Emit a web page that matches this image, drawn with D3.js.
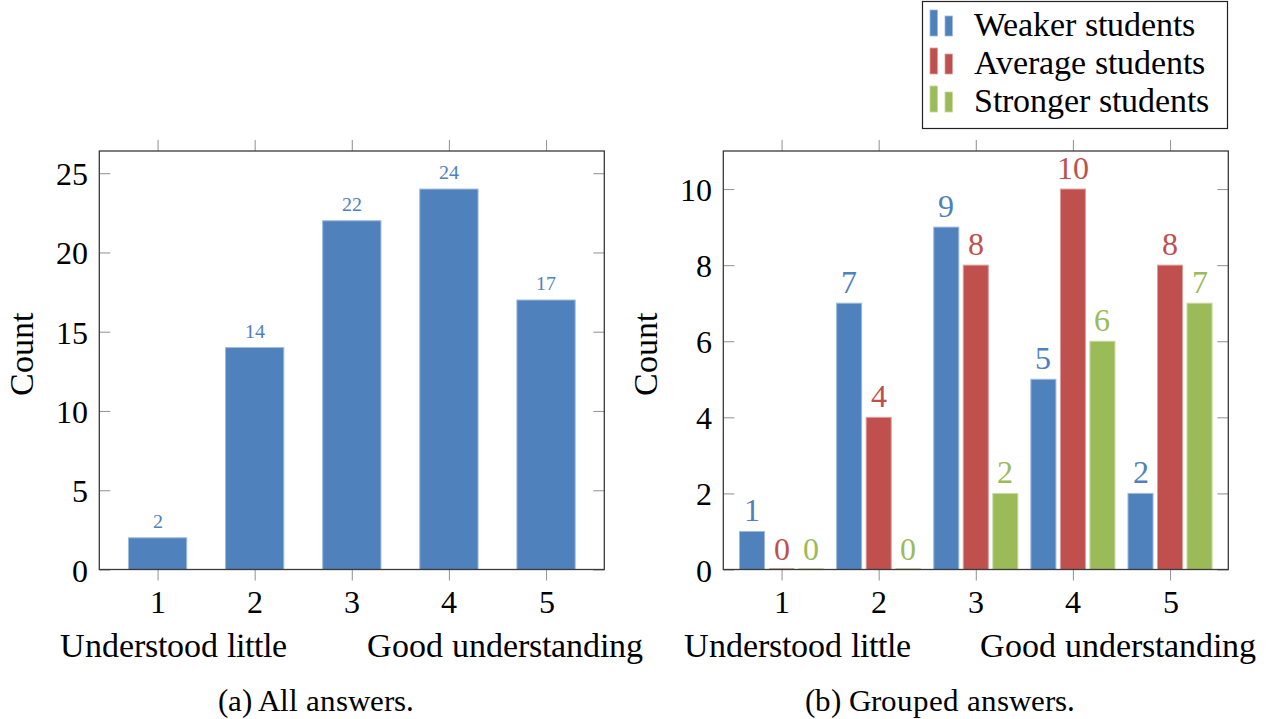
<!DOCTYPE html>
<html>
<head>
<meta charset="utf-8">
<script src="https://cdn.jsdelivr.net/npm/d3@7"></script>
<style>
  @font-face {
    font-family: "ChartSerif";
    src: local("Liberation Serif"), local("LiberationSerif"), local("LiberationSerif-Regular"),
         local("DejaVu Serif"), local("DejaVuSerif"), local("Noto Serif"), local("NotoSerif-Regular");
  }
  html, body { margin: 0; padding: 0; background: #fff; }
  svg { display: block; }
</style>
</head>
<body>
<svg id="fig" width="1266" height="719"></svg>
<script>
// Survey answers on a 1–5 understanding scale
const categories = [1, 2, 3, 4, 5];
const allCounts = [2, 14, 22, 24, 17];

const seriesNames = ["Weaker students", "Average students", "Stronger students"];
const weakerCounts = [1, 7, 9, 5, 2];
const averageCounts = [0, 4, 8, 10, 8];
const strongerCounts = [0, 0, 2, 6, 7];
const seriesColors = ["#4F81BD", "#C0504D", "#9BBB59"];

const leftTicks = [0, 5, 10, 15, 20, 25];
const rightTicks = [0, 2, 4, 6, 8, 10];
const scaleEnds = ["Understood little", "Good understanding"];
const yLabel = "Count";
const captions = ["(a) All answers.", "(b) Grouped answers."];

const svg = d3.select("#fig");
const SERIF = "ChartSerif, 'Liberation Serif', 'DejaVu Serif', serif";
const NUM_FONT = 32;   // tick numbers and value labels
const TEXT_FONT = 34;  // words: axis titles, scale ends, legend
const frameColor = "#3a3a3a";
const tickColor = "#9a9a9a";

function lighten(c, k) {
  return d3.interpolateRgb(c, "#ffffff")(k);
}

function label(sel, size) {
  return sel.attr("font-family", SERIF).attr("font-size", size).attr("font-weight", "normal");
}

// Draws a framed axis box with inward y ticks and outward x ticks
function panel(g, w, h, yMax, yTicks, endOverhang) {
  const x = d3.scaleLinear().domain([0.4, 5.6]).range([0, w]);
  const y = d3.scaleLinear().domain([0, yMax]).range([h, 0]);

  const styleAxis = sel => {
    sel.attr("font-family", SERIF).attr("font-size", NUM_FONT);
    sel.select(".domain").remove();
    sel.selectAll(".tick line").attr("stroke", tickColor).attr("stroke-width", 1.1);
    sel.selectAll(".tick text").call(label, NUM_FONT).attr("fill", "#000");
  };

  g.append("g").attr("transform", `translate(0,${h})`)
    .call(d3.axisBottom(x).tickValues(categories).tickFormat(d3.format("d")).tickSize(11).tickPadding(10))
    .call(styleAxis);
  g.append("g")
    .call(d3.axisTop(x).tickValues(categories).tickFormat("").tickSize(11))
    .call(styleAxis);
  g.append("g")
    .call(d3.axisLeft(y).tickValues(yTicks).tickFormat(d3.format("d")).tickSize(-11).tickPadding(11))
    .call(styleAxis)
    .selectAll(".tick text").attr("dy", "0.36em");
  g.append("g").attr("transform", `translate(${w},0)`)
    .call(d3.axisRight(y).tickValues(yTicks).tickFormat("").tickSize(-11))
    .call(styleAxis);

  // category-end descriptions under the tick labels
  g.append("text").attr("x", -39).attr("y", h + 87)
    .attr("text-anchor", "start").call(label, TEXT_FONT).attr("fill", "#000").text(scaleEnds[0]);
  g.append("text").attr("x", w + endOverhang).attr("y", h + 87)
    .attr("text-anchor", "end").call(label, TEXT_FONT).attr("fill", "#000").text(scaleEnds[1]);

  // rotated y label
  g.append("text")
    .attr("transform", `translate(-66,${h / 2 - 6}) rotate(-90)`)
    .attr("text-anchor", "middle").call(label, TEXT_FONT).attr("fill", "#000").text(yLabel);

  return { x, y };
}

function frame(g, w, h) {
  g.append("rect").attr("x", 0).attr("y", 0).attr("width", w).attr("height", h)
    .attr("fill", "none").attr("stroke", frameColor).attr("stroke-width", 1.3);
}

const PW = 505, PH = 418.5;

// ---- (a) all answers ----
const gA = svg.append("g").attr("transform", "translate(99.3,151)");
const A = panel(gA, PW, PH, 26.4, leftTicks, 39);
const halfA = 0.3;
gA.append("g").selectAll("rect").data(categories).join("rect")
  .attr("x", d => A.x(d - halfA))
  .attr("width", d => A.x(d + halfA) - A.x(d - halfA))
  .attr("y", (d, i) => A.y(allCounts[i]))
  .attr("height", (d, i) => Math.max(A.y(0) - A.y(allCounts[i]), 1))
  .attr("fill", seriesColors[0])
  .attr("stroke", lighten(seriesColors[0], 0.45)).attr("stroke-width", 1);
gA.append("g").selectAll("text").data(categories).join("text")
  .attr("x", d => A.x(d))
  .attr("y", (d, i) => A.y(allCounts[i]) - 10)
  .attr("text-anchor", "middle")
  .call(label, 20)
  .attr("fill", seriesColors[0])
  .text((d, i) => allCounts[i]);
frame(gA, PW, PH);

// ---- (b) grouped answers ----
const gB = svg.append("g").attr("transform", "translate(723.3,151)");
const B = panel(gB, PW, PH, 11, rightTicks, 28);
const groups = [weakerCounts, averageCounts, strongerCounts];
const barW = 0.258, step = 0.304;
groups.forEach((vals, s) => {
  const off = (s - 1) * step;
  const col = seriesColors[s];
  const layer = gB.append("g");
  layer.selectAll("rect").data(categories).join("rect")
    .attr("x", d => B.x(d + off - barW / 2))
    .attr("width", d => B.x(d + off + barW / 2) - B.x(d + off - barW / 2))
    .attr("y", (d, i) => B.y(vals[i]) - (vals[i] === 0 ? 1 : 0))
    .attr("height", (d, i) => Math.max(B.y(0) - B.y(vals[i]), 1))
    .attr("fill", col)
    .attr("stroke", (d, i) => vals[i] === 0 ? "none" : lighten(col, 0.45))
    .attr("stroke-width", 1);
  layer.selectAll("text").data(categories).join("text")
    .attr("x", d => B.x(d + off))
    .attr("y", (d, i) => B.y(vals[i]) - 10)
    .attr("text-anchor", "middle")
    .call(label, NUM_FONT)
    .attr("fill", col)
    .text((d, i) => vals[i]);
});
frame(gB, PW, PH);

// ---- legend ----
const lg = svg.append("g");
lg.append("rect").attr("x", 922.5).attr("y", 1.5).attr("width", 305).attr("height", 127)
  .attr("fill", "#fff").attr("stroke", "#222").attr("stroke-width", 1.2);
seriesNames.forEach((name, i) => {
  const by = 36 + 38 * i;
  const col = seriesColors[i];
  lg.append("rect").attr("x", 930).attr("y", by - 26).attr("width", 7.5).attr("height", 26)
    .attr("fill", col).attr("stroke", lighten(col, 0.45)).attr("stroke-width", 0.8);
  lg.append("rect").attr("x", 945).attr("y", by - 20).attr("width", 7.5).attr("height", 20)
    .attr("fill", col).attr("stroke", lighten(col, 0.45)).attr("stroke-width", 0.8);
  lg.append("text").attr("x", 974).attr("y", by).call(label, TEXT_FONT).attr("fill", "#000").text(name);
});

// ---- captions ----
svg.append("text").attr("x", 316).attr("y", 711).attr("text-anchor", "middle")
  .call(label, 31).attr("fill", "#000").text(captions[0]);
svg.append("text").attr("x", 940).attr("y", 711).attr("text-anchor", "middle")
  .call(label, 31).attr("fill", "#000").text(captions[1]);
</script>
</body>
</html>
